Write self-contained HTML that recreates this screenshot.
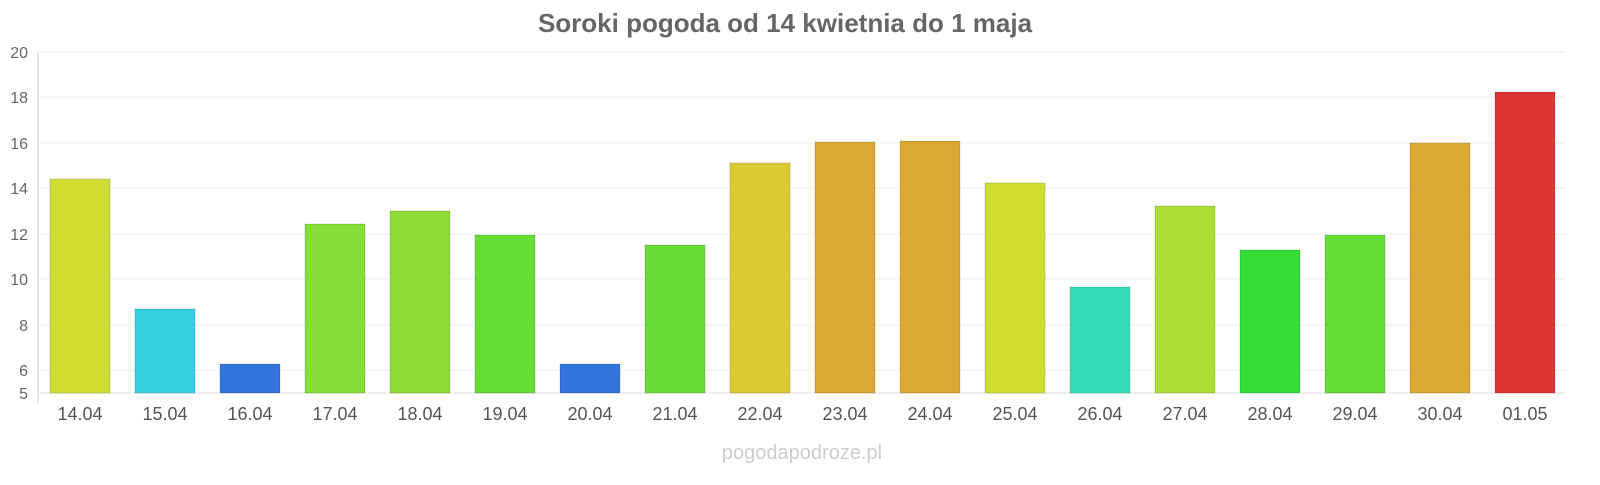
<!DOCTYPE html>
<html><head><style>body{margin:0;background:#fff;}</style></head><body>
<svg width="1600" height="480" xmlns="http://www.w3.org/2000/svg" font-family="Liberation Sans, sans-serif">
<rect width="1600" height="480" fill="#fff"/>
<text x="785" y="32" text-anchor="middle" font-size="26" font-weight="bold" fill="#666">Soroki pogoda od 14 kwietnia do 1 maja</text>
<g stroke="#eee" stroke-width="1">
<line x1="38" y1="52" x2="1565" y2="52"/><line x1="38" y1="97" x2="1565" y2="97"/><line x1="38" y1="143" x2="1565" y2="143"/><line x1="38" y1="188" x2="1565" y2="188"/><line x1="38" y1="234" x2="1565" y2="234"/><line x1="38" y1="279" x2="1565" y2="279"/><line x1="38" y1="325" x2="1565" y2="325"/><line x1="38" y1="370" x2="1565" y2="370"/>
</g>
<line x1="38" y1="52" x2="38" y2="403" stroke="#ccc"/>
<line x1="38" y1="393" x2="1565" y2="393" stroke="#ddd"/>
<g font-size="16" fill="#666" text-anchor="end">
<text x="28" y="58">20</text><text x="28" y="103">18</text><text x="28" y="149">16</text><text x="28" y="194">14</text><text x="28" y="240">12</text><text x="28" y="285">10</text><text x="28" y="331">8</text><text x="28" y="376">6</text><text x="28" y="399">5</text>
</g>
<g stroke-opacity="0.3" stroke="#000" stroke-width="0.5">
<rect x="50" y="179" width="60" height="214" fill="#cfdd33"/>
<rect x="135" y="309" width="60" height="84" fill="#35cfdd"/>
<rect x="220" y="364" width="60" height="29" fill="#3375dd"/>
<rect x="305" y="224" width="60" height="169" fill="#85dd35"/>
<rect x="390" y="211" width="60" height="182" fill="#8cdd35"/>
<rect x="475" y="235" width="60" height="158" fill="#66dd35"/>
<rect x="560" y="364" width="60" height="29" fill="#3375dd"/>
<rect x="645" y="245" width="60" height="148" fill="#68dd35"/>
<rect x="730" y="163" width="60" height="230" fill="#dbca33"/>
<rect x="815" y="142" width="60" height="251" fill="#dba833"/>
<rect x="900" y="141" width="60" height="252" fill="#dba833"/>
<rect x="985" y="183" width="60" height="210" fill="#cfdd33"/>
<rect x="1070" y="287" width="60" height="106" fill="#35ddb8"/>
<rect x="1155" y="206" width="60" height="187" fill="#acdd33"/>
<rect x="1240" y="250" width="60" height="143" fill="#33dd35"/>
<rect x="1325" y="235" width="60" height="158" fill="#66dd35"/>
<rect x="1410" y="143" width="60" height="250" fill="#dba833"/>
<rect x="1495" y="92" width="60" height="301" fill="#db3535"/>
</g>
<g font-size="18" fill="#555" text-anchor="middle">
<text x="80" y="420">14.04</text><text x="165" y="420">15.04</text><text x="250" y="420">16.04</text><text x="335" y="420">17.04</text><text x="420" y="420">18.04</text><text x="505" y="420">19.04</text><text x="590" y="420">20.04</text><text x="675" y="420">21.04</text><text x="760" y="420">22.04</text><text x="845" y="420">23.04</text><text x="930" y="420">24.04</text><text x="1015" y="420">25.04</text><text x="1100" y="420">26.04</text><text x="1185" y="420">27.04</text><text x="1270" y="420">28.04</text><text x="1355" y="420">29.04</text><text x="1440" y="420">30.04</text><text x="1525" y="420">01.05</text>
</g>
<text x="802" y="459" text-anchor="middle" font-size="20" fill="#ccc">pogodapodroze.pl</text>
</svg>
</body></html>
